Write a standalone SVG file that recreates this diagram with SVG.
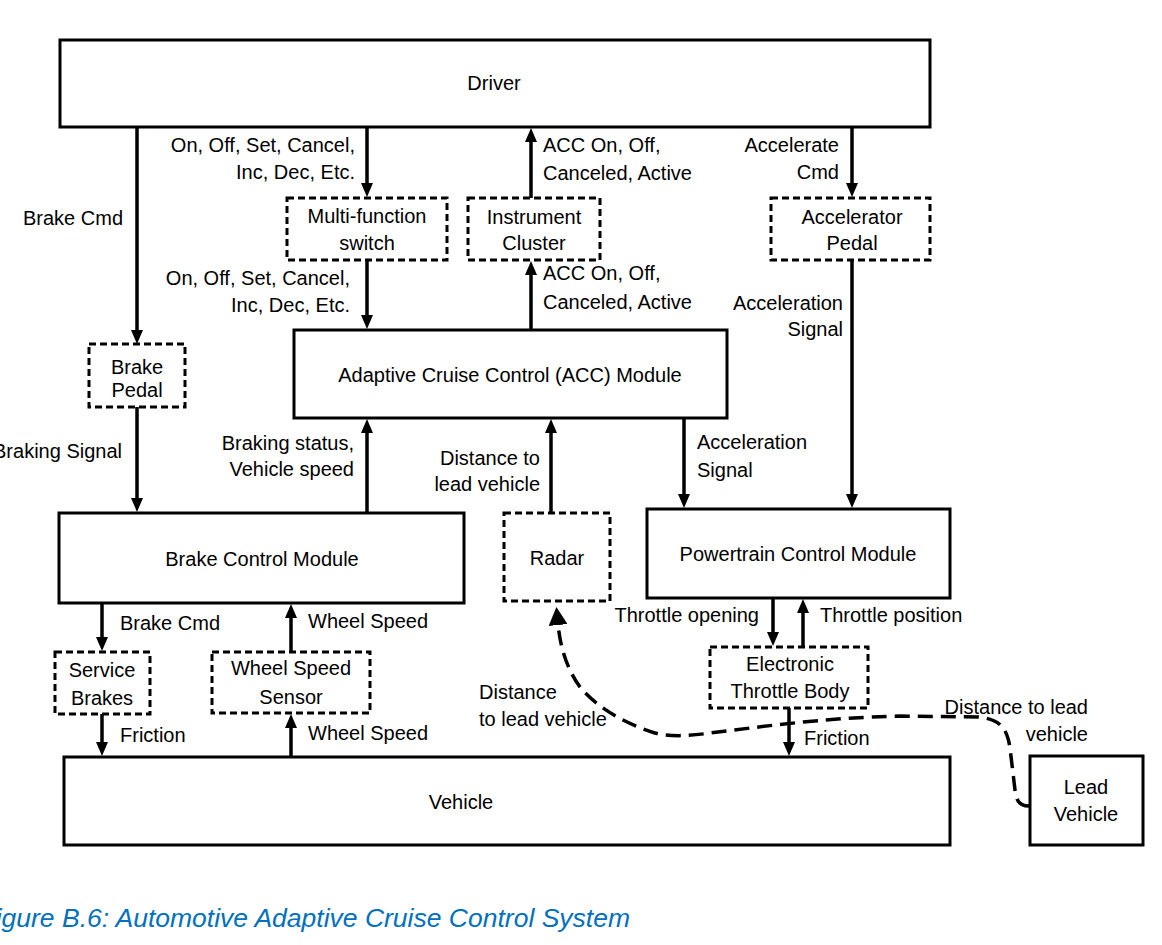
<svg xmlns="http://www.w3.org/2000/svg" width="1162" height="945" viewBox="0 0 1162 945">
<style>
.box{fill:#fff;stroke:#000;stroke-width:3}
.dbox{fill:#fff;stroke:#000;stroke-width:3;stroke-dasharray:7 4}
.ln{stroke:#000;stroke-width:3.5;fill:none}
.dl{stroke:#000;stroke-width:3.5;fill:none;stroke-dasharray:15 8}
text{font-family:"Liberation Sans",Arial,sans-serif;font-size:20px;fill:#000}
.m{text-anchor:middle}
.e{text-anchor:end}
.cap{font-size:26.5px;font-style:italic;fill:#0070C0;text-anchor:end}
</style>
<defs>
<marker id="arr" viewBox="0 0 14 12" markerWidth="14" markerHeight="12" markerUnits="userSpaceOnUse" refX="1" refY="6" orient="auto">
<path d="M0,0 L14,6 L0,12 z" fill="#000"/>
</marker>
<marker id="arrB" viewBox="0 0 18 19" markerWidth="18" markerHeight="19" markerUnits="userSpaceOnUse" refX="1" refY="9.5" orient="auto">
<path d="M0,0 L18,9.5 L0,19 z" fill="#000"/>
</marker>
</defs>
<rect width="1162" height="945" fill="#fff"/>

<g id="connectors">
<line class="ln" x1="137" y1="127" x2="137" y2="331" marker-end="url(#arr)"/>
<line class="ln" x1="367" y1="127" x2="367" y2="184" marker-end="url(#arr)"/>
<line class="ln" x1="367" y1="260" x2="367" y2="316" marker-end="url(#arr)"/>
<line class="ln" x1="531" y1="198" x2="531" y2="141" marker-end="url(#arr)"/>
<line class="ln" x1="531" y1="330" x2="531" y2="274" marker-end="url(#arr)"/>
<line class="ln" x1="852" y1="127" x2="852" y2="184" marker-end="url(#arr)"/>
<line class="ln" x1="852" y1="260" x2="852" y2="495" marker-end="url(#arr)"/>
<line class="ln" x1="137" y1="407" x2="137" y2="499" marker-end="url(#arr)"/>
<line class="ln" x1="367" y1="513" x2="367" y2="432" marker-end="url(#arr)"/>
<line class="ln" x1="551" y1="513" x2="551" y2="432" marker-end="url(#arr)"/>
<line class="ln" x1="684" y1="418" x2="684" y2="495" marker-end="url(#arr)"/>
<line class="ln" x1="773" y1="598" x2="773" y2="633" marker-end="url(#arr)"/>
<line class="ln" x1="803" y1="647" x2="803" y2="612" marker-end="url(#arr)"/>
<line class="ln" x1="102" y1="603" x2="102" y2="638" marker-end="url(#arr)"/>
<line class="ln" x1="102" y1="714" x2="102" y2="743" marker-end="url(#arr)"/>
<line class="ln" x1="291" y1="652" x2="291" y2="617" marker-end="url(#arr)"/>
<line class="ln" x1="291" y1="757" x2="291" y2="727" marker-end="url(#arr)"/>
<line class="ln" x1="789" y1="708" x2="789" y2="743" marker-end="url(#arr)"/>
<path class="dl" d="M1029,806 C1019,806 1016,800 1015,790 L1010,748 C1007,728 1000,719 978,717 L900,716 C820,718 760,727 710,733 C690,736 670,737 655,733 C620,722 595,705 580,687 C566,668 560,645 558,624" marker-end="url(#arrB)"/>
</g>

<g id="driver"><rect class="box" x="60" y="40" width="870" height="87"/><text class="m" x="494" y="90">Driver</text></g>
<g id="mfs"><rect class="dbox" x="287" y="198" width="160" height="62"/><text class="m" x="367" y="223">Multi-function</text><text class="m" x="367" y="250">switch</text></g>
<g id="cluster"><rect class="dbox" x="468" y="198" width="132" height="62"/><text class="m" x="534" y="224">Instrument</text><text class="m" x="534" y="250">Cluster</text></g>
<g id="accel_pedal"><rect class="dbox" x="771" y="198" width="159" height="62"/><text class="m" x="852" y="224">Accelerator</text><text class="m" x="852" y="250">Pedal</text></g>
<g id="acc"><rect class="box" x="294" y="330" width="433" height="88"/><text class="m" x="510" y="382">Adaptive Cruise Control (ACC) Module</text></g>
<g id="brake_pedal"><rect class="dbox" x="89" y="344" width="96" height="63"/><text class="m" x="137" y="374">Brake</text><text class="m" x="137" y="397">Pedal</text></g>
<g id="bcm"><rect class="box" x="59" y="513" width="405" height="90"/><text class="m" x="262" y="566">Brake Control Module</text></g>
<g id="radar"><rect class="dbox" x="504" y="513" width="106" height="88"/><text class="m" x="557" y="565">Radar</text></g>
<g id="pcm"><rect class="box" x="647" y="509" width="303" height="89"/><text class="m" x="798" y="561">Powertrain Control Module</text></g>
<g id="etb"><rect class="dbox" x="710" y="647" width="158" height="61"/><text class="m" x="790" y="671">Electronic</text><text class="m" x="790" y="698">Throttle Body</text></g>
<g id="service_brakes"><rect class="dbox" x="55" y="652" width="95" height="62"/><text class="m" x="102" y="677">Service</text><text class="m" x="102" y="705">Brakes</text></g>
<g id="wss"><rect class="dbox" x="212" y="652" width="158" height="61"/><text class="m" x="291" y="675">Wheel Speed</text><text class="m" x="291" y="704">Sensor</text></g>
<g id="vehicle"><rect class="box" x="64" y="757" width="886" height="88"/><text class="m" x="461" y="809">Vehicle</text></g>
<g id="lead_vehicle"><rect class="box" x="1030" y="756" width="113" height="89"/><text class="m" x="1086" y="794">Lead</text><text class="m" x="1086" y="821">Vehicle</text></g>

<g id="labels">
<text class="e" x="355" y="152">On, Off, Set, Cancel,</text>
<text class="e" x="355" y="179">Inc, Dec, Etc.</text>
<text class="e" x="123" y="225">Brake Cmd</text>
<text class="e" x="350" y="285">On, Off, Set, Cancel,</text>
<text class="e" x="350" y="312">Inc, Dec, Etc.</text>
<text x="543" y="152">ACC On, Off,</text>
<text x="543" y="180">Canceled, Active</text>
<text x="543" y="280">ACC On, Off,</text>
<text x="543" y="309">Canceled, Active</text>
<text class="e" x="839" y="152">Accelerate</text>
<text class="e" x="839" y="179">Cmd</text>
<text class="e" x="843" y="310">Acceleration</text>
<text class="e" x="843" y="336">Signal</text>
<text class="e" x="122" y="458">Braking Signal</text>
<text class="e" x="354" y="450">Braking status,</text>
<text class="e" x="354" y="476">Vehicle speed</text>
<text class="e" x="540" y="465">Distance to</text>
<text class="e" x="540" y="491">lead vehicle</text>
<text x="697" y="449">Acceleration</text>
<text x="697" y="477">Signal</text>
<text class="e" x="759" y="622">Throttle opening</text>
<text x="820" y="622">Throttle position</text>
<text x="804" y="745">Friction</text>
<text class="e" x="1088" y="714">Distance to lead</text>
<text class="e" x="1088" y="741">vehicle</text>
<text x="479" y="699">Distance</text>
<text x="479" y="726">to lead vehicle</text>
<text x="120" y="630">Brake Cmd</text>
<text x="120" y="742">Friction</text>
<text x="308" y="628">Wheel Speed</text>
<text x="308" y="740">Wheel Speed</text>
<text class="cap" x="630" y="927">Figure B.6: Automotive Adaptive Cruise Control System</text>
</g>
</svg>
